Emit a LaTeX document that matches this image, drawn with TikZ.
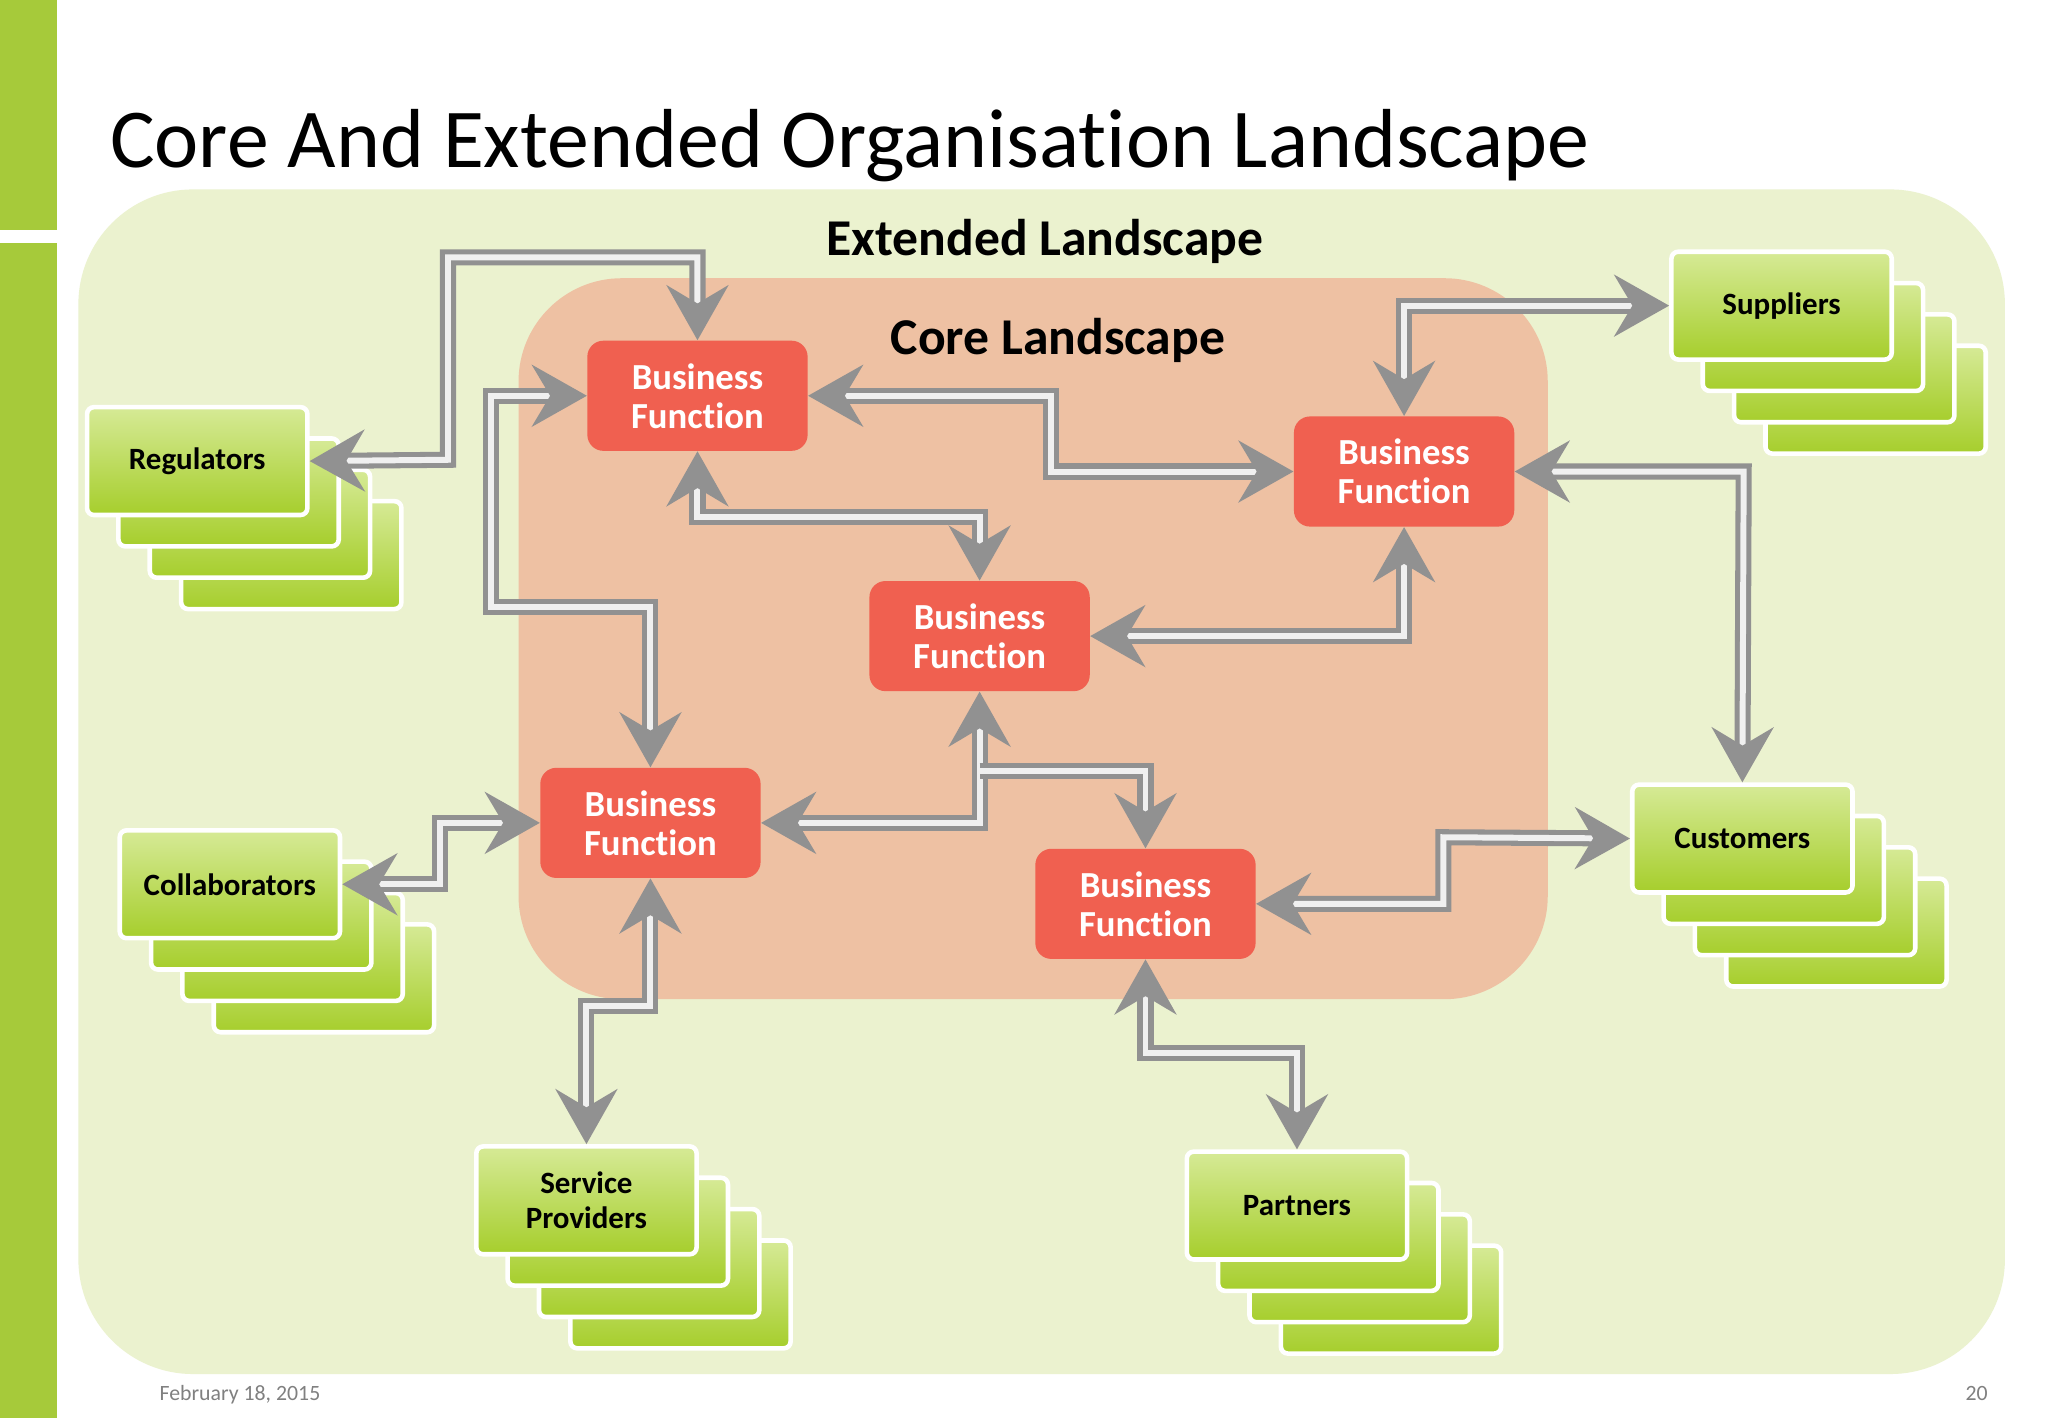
\documentclass[tikz,border=0pt]{standalone}
\usepackage{fontspec}
\setmainfont{Carlito}[Ligatures=NoCommon]
\usetikzlibrary{arrows.meta}
\definecolor{barg}{RGB}{166,202,58}
\definecolor{extg}{RGB}{235,242,207}
\definecolor{coreo}{RGB}{238,193,163}
\definecolor{bfred}{RGB}{240,96,80}
\definecolor{glight}{RGB}{214,234,150}
\definecolor{gdark}{RGB}{166,206,44}
\definecolor{arr}{RGB}{145,145,145}
\tikzset{
 bf/.style={rectangle,rounded corners=7pt,fill=bfred,text=white,minimum width=96pt,minimum height=48pt,align=center,font=\fontsize{16}{17}\selectfont\bfseries},
 gb/.style={rectangle,rounded corners=3pt,draw=white,line width=2pt,top color=glight,bottom color=gdark,minimum width=96pt,minimum height=47pt,align=center,font=\fontsize{13.5}{15}\selectfont\bfseries},
 tip/.tip={Stealth[length=24pt,width=27pt,inset=8pt]},
 ar/.style={draw=arr,line width=2.2pt,double=white!88!gray,double distance=2.6pt,line join=miter,tip-tip},
 ar1/.style={draw=arr,line width=2.2pt,double=white!88!gray,double distance=2.6pt,line join=miter,-tip},
}
\newcommand\stk[5]{% name x y text
 \node[gb] (#1d) at (#2+72,#3+72) {};
 \node[gb] (#1c) at (#2+48,#3+48) {};
 \node[gb] (#1b) at (#2+24,#3+24) {};
 \node[gb] (#1a) at (#2,#3) {#4};
}
\begin{document}
\begin{tikzpicture}[x=0.02cm,y=-0.02cm]
\useasboundingbox (0,0) rectangle (1568,1086);
\fill[white] (0,0) rectangle (1568,1086);
\fill[barg] (0,0) rectangle (44,176);
\fill[barg] (0,186) rectangle (44,1086);
\node[anchor=base west,inner sep=0,font=\fontsize{36.5}{38}\selectfont] (title) at (84,128) {Core And Extended Organisation Landscape};
\fill[extg,rounded corners=50pt] (60,145) rectangle (1535,1052);
\fill[coreo,rounded corners=45pt] (397,213) rectangle (1185,765);
\node[font=\fontsize{22.5}{24}\selectfont\bfseries] (ext) at (800,185) {Extended Landscape};
\node[font=\fontsize{22.5}{24}\selectfont\bfseries] (core) at (810,261) {Core Landscape};
\node[bf] (bf1) at (534,303) {Business\\Function};
\node[bf] (bf2) at (1075,361) {Business\\Function};
\node[bf] (bf3) at (750,487) {Business\\Function};
\node[bf] (bf4) at (498,630) {Business\\Function};
\node[bf] (bf5) at (877,692) {Business\\Function};
\stk{regu}{151}{353}{Regulators}{}
\stk{supp}{1364}{234}{Suppliers}{}
\stk{coll}{176}{677}{Collaborators}{}
\stk{cust}{1334}{642}{Customers}{}
\stk{serv}{449}{919}{Service\\Providers}{}
\stk{part}{993}{923}{Partners}{}
% arrows
\draw[ar] (regua.east) -- (343,352) -- (343,197) -- (534,197) -- (bf1.north);
\draw[ar] (bf1.west) -- (376,303) -- (376,465) -- (498,465) -- (bf4.north);
\draw[ar] (bf1.east) -- (805,303) -- (805,361) -- (bf2.west);
\draw[ar] (bf1.south) -- (534,396) -- (750,396) -- (bf3.north);
\draw[ar] (suppa.west) -- (1075,234) -- (bf2.north);
\draw[ar] (bf2.east) -- (1335,361) -- (custa.north);
\draw[ar] (bf3.east) -- (1075,487) -- (bf2.south);
\draw[ar] (bf4.east) -- (750,630) -- (bf3.south);
\coordinate (br) at (750,590);
\draw[ar1] (br) -- (877,590) -- (bf5.north);
\draw[ar] (colla.east) -- (337,677) -- (337,630) -- (bf4.west);
\draw[ar] (custa.west) -- (1105,641) -- (1105,692) -- (bf5.east);
\draw[ar] (bf4.south) -- (498,770) -- (449,770) -- (serva.north);
\draw[ar] (bf5.south) -- (877,806) -- (993,806) -- (parta.north);
\node[anchor=base west,text=gray,font=\fontsize{9.5}{10}\selectfont] (date) at (116,1072) {February 18, 2015};
\node[anchor=base east,text=gray,font=\fontsize{9.5}{10}\selectfont] (pg) at (1528,1072) {20};
\end{tikzpicture}
\end{document}
